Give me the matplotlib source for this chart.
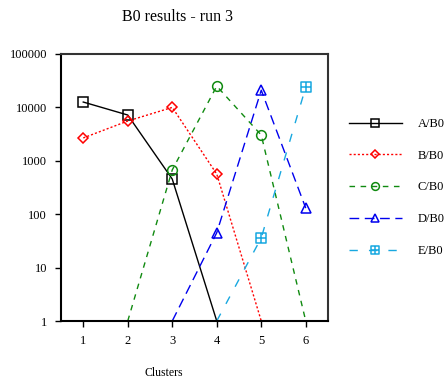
import matplotlib
matplotlib.use("Agg")
import matplotlib.pyplot as plt
import numpy as np
from matplotlib.path import Path

plt.rcParams['font.family'] = ['Liberation Serif', 'DejaVu Serif']

clusters = [1, 2, 3, 4, 5, 6]
A = [12600, 7200, 455, 1, np.nan, np.nan]
B = [2680, 5560, 10000, 565, 1, np.nan]
C = [np.nan, 1, 675, 25000, 3030, 1]
D = [np.nan, np.nan, 1, 45, 21000, 130]
E = [np.nan, np.nan, np.nan, 1, 36, 24000]
labels = ["A/B0", "B/B0", "C/B0", "D/B0", "E/B0"]
yticks = [1, 10, 100, 1000, 10000, 100000]

sqplus = Path([(-1, -1), (1, -1), (1, 1), (-1, 1), (-1, -1), (0, -1), (0, 1), (-1, 0), (1, 0)],
              [Path.MOVETO, Path.LINETO, Path.LINETO, Path.LINETO, Path.CLOSEPOLY,
               Path.MOVETO, Path.LINETO, Path.MOVETO, Path.LINETO])

styles = [
    dict(color='black', ls='-', marker='s', ms=7),
    dict(color='#ff0000', ls=(0, (1.5, 1.5)), marker='D', ms=5),
    dict(color='#108a10', ls=(0, (4, 4)), marker='o', ms=7),
    dict(color='#0000ee', ls=(0, (7, 4)), marker='^', ms=7),
    dict(color='#18a8e0', ls=(0, (6, 8)), marker=sqplus, ms=7),
]

fig = plt.figure(figsize=(4.44, 3.81), dpi=100)
ax = fig.add_axes([61/444, 1 - 321/381, (328-61)/444, (321-54)/381])

for vals, lab, st in zip([A, B, C, D, E], labels, styles):
    arr = np.array(vals, dtype=float)
    mask = [bool(np.isfinite(v) and v > 1) for v in arr]
    ax.plot(clusters, arr, color=st['color'], ls=st['ls'], lw=1.0,
            marker=st['marker'], ms=st['ms'], mfc='none', mec=st['color'], mew=1.1,
            markevery=mask, label=lab)

ax.set_yscale('log')
ax.set_ylim(1, 100000)
ax.set_xlim(0.5, 6.5)
ax.set_xticks(clusters)
ax.set_xticklabels([str(c) for c in clusters])
ax.set_yticks(yticks)
ax.set_yticklabels([str(v) for v in yticks])
ax.yaxis.set_minor_locator(matplotlib.ticker.NullLocator())
ax.tick_params(labelsize=9, length=4, width=1, direction='out', pad=6)
for s in ax.spines.values():
    s.set_linewidth(1.5)
    s.set_color('#333333')
ax.spines['left'].set_color('black')
ax.spines['bottom'].set_color('black')

leg = fig.legend(*ax.get_legend_handles_labels(), loc='upper left',
                 bbox_to_anchor=(344/444, 1 - 113/381), frameon=False,
                 fontsize=9, handlelength=4.2, labelspacing=1.58, handletextpad=1.3,
                 markerscale=0.8, borderaxespad=0)

fig.text(177/444, 1 - 17/381, "B0 results - run 3", ha='center', va='center', fontsize=11.5)
fig.text(164/444, 1 - 373/381, "Clusters", ha='center', va='center', fontsize=8.5)

fig.savefig("out.png", dpi=100)
